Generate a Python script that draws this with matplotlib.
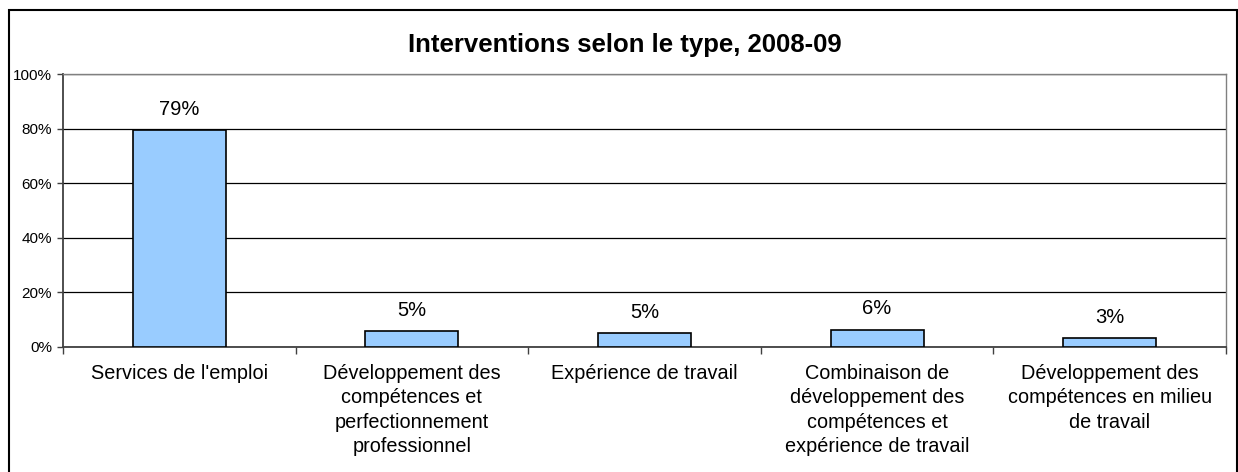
import matplotlib
matplotlib.use("Agg")
import matplotlib.pyplot as plt
from matplotlib.patches import Rectangle
import numpy as np

categories = [
    "Services de l'emploi",
    "Développement des\ncompétences et\nperfectionnement\nprofessionnel",
    "Expérience de travail",
    "Combinaison de\ndéveloppement des\ncompétences et\nexpérience de travail",
    "Développement des\ncompétences en milieu\nde travail",
]
values = [79.4, 5.7, 5.2, 6.4, 3.4]
value_labels = ["79%", "5%", "5%", "6%", "3%"]
yticks = [0, 20, 40, 60, 80, 100]
ytick_labels = ["0%", "20%", "40%", "60%", "80%", "100%"]
title = "Interventions selon le type, 2008-09"

plt.rcParams['font.family'] = ['Liberation Sans', 'DejaVu Sans']

W, H = 1238, 472
fig = plt.figure(figsize=(W / 100, H / 100), dpi=100)

# figure border
fig.patches.append(Rectangle((9 / W, -0.1), (1237.3 - 9) / W, (H - 10) / H + 0.1,
                             transform=fig.transFigure, fill=False,
                             edgecolor='black', linewidth=1.5, zorder=0))

ax = fig.add_axes([63 / W, (H - 347) / H, (1226 - 63) / W, (347 - 74) / H])

x = np.arange(len(categories))
ax.bar(x, values, width=0.4, color='#99CCFF', edgecolor='black', linewidth=1.2, zorder=3)

for xi, v, lab in zip(x, values, value_labels):
    ax.annotate(lab, (xi, v), xytext=(0, 8), textcoords='offset points',
                ha='center', va='bottom', fontsize=14.5, color='black')

ax.set_xlim(-0.5, len(categories) - 0.5)
ax.set_ylim(0, 100)
ax.set_yticks(yticks)
ax.set_yticklabels(ytick_labels, fontsize=11)
ax.yaxis.grid(True, color='black', linewidth=0.9, zorder=0)
ax.set_axisbelow(True)

ax.set_xticks(x)
ax.set_xticklabels(categories, fontsize=14.3, linespacing=1.37, va='top')
ax.tick_params(axis='x', length=0, pad=12)
ax.set_xticks(np.arange(len(categories) + 1) - 0.5, minor=True)
ax.tick_params(axis='x', which='minor', length=5, width=1, color='#404040', direction='out')
ax.tick_params(axis='y', length=4.5, width=1, color='#404040', direction='out', pad=3.5)

for s in ['top', 'right']:
    ax.spines[s].set_color('#808080')
    ax.spines[s].set_linewidth(1.0)
for s in ['left', 'bottom']:
    ax.spines[s].set_color('#404040')
    ax.spines[s].set_linewidth(1.3)

fig.text((408 + 842) / 2 / W, (H - 45) / H, title, ha='center', va='center',
         fontsize=18.5, fontweight='bold')

fig.savefig("out.png", dpi=100)
